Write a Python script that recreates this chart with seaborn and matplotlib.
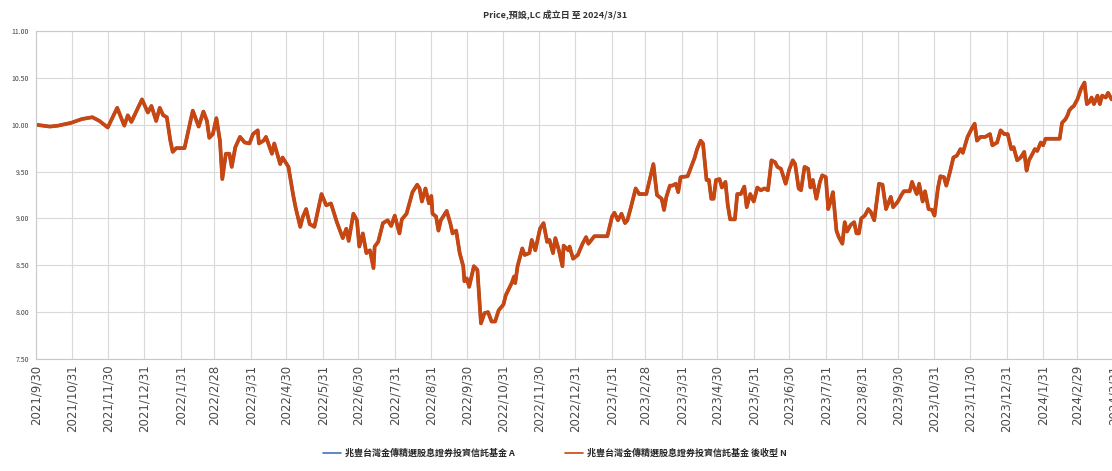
import numpy as np
import pandas as pd
import seaborn as sns
import matplotlib.pyplot as plt
from matplotlib.ticker import MultipleLocator, FormatStrFormatter

# NAV, days counted from inception (2021/9/30)
launch = '2021-09-30'
days_since_launch = [
    0, 12, 19, 30, 39, 48, 54, 61, 69, 75, 78, 81, 90, 95, 98, 102, 105, 108, 111, 114,
    116, 119, 126, 133, 138, 142, 145, 147, 150, 153, 156, 158, 161, 164, 166, 169, 173, 177, 181, 184,
    188, 189, 193, 195, 200, 202, 207, 209, 214, 218, 220, 224, 226, 229, 232, 236, 242, 246, 250, 255,
    260, 263, 265, 269, 272, 274, 277, 280, 283, 286, 287, 290, 294, 298, 301, 304, 308, 310, 314, 317,
    319, 323, 325, 327, 330, 333, 335, 336, 339, 341, 343, 348, 351, 353, 356, 359, 362, 363, 365, 367,
    371, 374, 377, 380, 383, 386, 389, 392, 396, 398, 403, 405, 406, 408, 412, 414, 418, 420, 423, 427,
    430, 433, 435, 438, 440, 443, 446, 447, 451, 452, 455, 459, 463, 466, 468, 473, 484, 488, 490, 493,
    496, 499, 501, 504, 508, 511, 514, 517, 520, 523, 526, 530, 532, 534, 537, 539, 542, 544, 546, 552,
    555, 558, 560, 563, 565, 568, 570, 572, 574, 576, 579, 581, 584, 586, 588, 592, 594, 597, 600, 602,
    605, 608, 611, 614, 617, 620, 623, 626, 628, 631, 635, 638, 641, 643, 646, 648, 651, 654, 656, 658,
    661, 664, 666, 669, 671, 673, 675, 678, 680, 683, 685, 687, 690, 693, 695, 697, 699, 702, 705, 707,
    710, 714, 717, 720, 724, 726, 730, 733, 735, 740, 742, 744, 746, 748, 751, 753, 756, 759, 761, 764,
    766, 769, 771, 774, 777, 780, 783, 785, 789, 793, 795, 797, 800, 804, 808, 810, 814, 817, 820, 823,
    826, 828, 831, 834, 837, 839, 841, 844, 846, 848, 851, 853, 855, 867, 869, 872, 874, 875, 877, 879,
    882, 885, 888, 890, 892, 894, 896, 899, 901, 903, 906, 908, 911, 913,
]
nav_n = [
    10.00, 9.98, 9.99, 10.02, 10.06, 10.08, 10.04, 9.97, 10.18, 9.99, 10.10, 10.03, 10.27, 10.13, 10.20, 10.04, 10.18, 10.10, 10.08, 9.83,
    9.71, 9.75, 9.75, 10.15, 9.98, 10.14, 10.04, 9.86, 9.90, 10.07, 9.83, 9.42, 9.69, 9.69, 9.55, 9.76, 9.87, 9.81, 9.80, 9.90,
    9.94, 9.80, 9.83, 9.87, 9.69, 9.80, 9.58, 9.65, 9.55, 9.25, 9.12, 8.91, 9.01, 9.10, 8.94, 8.91, 9.26, 9.14, 9.16, 8.96,
    8.79, 8.89, 8.76, 9.05, 8.98, 8.70, 8.84, 8.63, 8.66, 8.47, 8.70, 8.75, 8.95, 8.98, 8.92, 9.03, 8.84, 8.99, 9.05, 9.19,
    9.28, 9.36, 9.32, 9.18, 9.32, 9.16, 9.24, 9.05, 9.02, 8.87, 8.98, 9.08, 8.95, 8.84, 8.87, 8.63, 8.49, 8.33, 8.36, 8.27,
    8.49, 8.45, 7.88, 7.99, 8.00, 7.90, 7.90, 8.02, 8.08, 8.18, 8.31, 8.38, 8.31, 8.49, 8.68, 8.61, 8.63, 8.77, 8.66, 8.89,
    8.95, 8.75, 8.77, 8.63, 8.79, 8.66, 8.49, 8.71, 8.66, 8.70, 8.57, 8.61, 8.73, 8.80, 8.73, 8.81, 8.81, 9.02, 9.06, 8.98,
    9.05, 8.95, 8.98, 9.12, 9.32, 9.26, 9.26, 9.26, 9.42, 9.58, 9.25, 9.21, 9.09, 9.23, 9.35, 9.35, 9.37, 9.28, 9.44, 9.45,
    9.55, 9.65, 9.74, 9.83, 9.80, 9.41, 9.41, 9.21, 9.21, 9.41, 9.42, 9.33, 9.39, 9.14, 8.99, 8.99, 9.26, 9.26, 9.34, 9.12,
    9.26, 9.18, 9.33, 9.30, 9.32, 9.30, 9.62, 9.60, 9.55, 9.53, 9.37, 9.52, 9.62, 9.58, 9.32, 9.30, 9.55, 9.53, 9.33, 9.41,
    9.21, 9.39, 9.46, 9.44, 9.10, 9.18, 9.28, 8.87, 8.80, 8.73, 8.96, 8.86, 8.93, 8.96, 8.84, 8.84, 9.00, 9.03, 9.10, 9.07,
    8.98, 9.37, 9.36, 9.10, 9.23, 9.12, 9.18, 9.25, 9.29, 9.29, 9.39, 9.32, 9.26, 9.37, 9.18, 9.29, 9.10, 9.09, 9.03, 9.33,
    9.45, 9.44, 9.35, 9.49, 9.65, 9.67, 9.74, 9.70, 9.87, 9.97, 10.01, 9.83, 9.87, 9.87, 9.90, 9.78, 9.81, 9.94, 9.90, 9.90,
    9.74, 9.76, 9.62, 9.65, 9.71, 9.51, 9.62, 9.69, 9.74, 9.72, 9.81, 9.78, 9.85, 9.85, 10.02, 10.06, 10.11, 10.15, 10.18, 10.20,
    10.27, 10.38, 10.45, 10.22, 10.24, 10.29, 10.22, 10.31, 10.22, 10.31, 10.29, 10.34, 10.27, 10.30,
]
# class A tracks class N almost exactly; it only peeks out under the orange line
nav_a = list(nav_n)

series_names = ['兆豐台灣金傳精選股息證券投資信託基金 A', '兆豐台灣金傳精選股息證券投資信託基金 後收型 N']
series_colors = ['#4472C4', '#C8460F']
title = 'Price,預設,LC 成立日 至 2024/3/31'

dates = pd.Timestamp(launch) + pd.to_timedelta(days_since_launch, unit='D')
df = pd.concat([
    pd.DataFrame({'date': dates, 'nav': nav_a, 'fund': series_names[0]}),
    pd.DataFrame({'date': dates, 'nav': nav_n, 'fund': series_names[1]}),
])

sns.set_style('white')
plt.rcParams['font.family'] = ['Noto Sans CJK TC', 'DejaVu Sans']

fig = plt.figure(figsize=(11.12, 4.71), dpi=100)
ax = fig.add_axes([0.0321, 0.2378, 0.9697, 0.6964])

sns.lineplot(data=df, x='date', y='nav', hue='fund', palette=series_colors,
             linewidth=2.7, ax=ax, legend=False)
ax.lines[0].set_linewidth(2.3)

ax.set_xlim(pd.Timestamp('2021-09-30'), pd.Timestamp('2024-03-31'))
ax.set_ylim(7.5, 11.0)
month_ends = pd.date_range('2021-09-30', '2024-03-31', freq='ME')
ax.set_xticks(month_ends)
ax.set_xticklabels([f'{d.year}/{d.month}/{d.day}' for d in month_ends],
                   rotation=90, fontsize=8.5, color='#4a4a4a', family='DejaVu Sans')
ax.yaxis.set_major_locator(MultipleLocator(0.5))
ax.yaxis.set_minor_locator(MultipleLocator(0.1))
ax.yaxis.set_major_formatter(FormatStrFormatter('%.2f'))
ax.tick_params(axis='y', which='major', labelsize=5, colors='#404040', length=3, width=0.6, pad=2)
ax.tick_params(axis='y', which='minor', length=1.5, width=0.5, color='#909090')
ax.tick_params(axis='x', length=2, width=0.5, color='#909090', pad=2)
ax.set_xlabel('')
ax.set_ylabel('')

ax.grid(True, which='major', color='#d9d9d9', linewidth=0.8)
for s in ax.spines.values():
    s.set_color('#c8c8c8')
    s.set_linewidth(0.8)

fig.text(0.499, 0.968, title, ha='center', va='center', fontsize=6.5, fontweight='bold', color='#333333')

handles = [plt.Line2D([], [], color=c, linewidth=1.2) for c in series_colors]
fig.legend(handles, series_names, loc='center', bbox_to_anchor=(0.499, 0.038), ncol=2,
           frameon=False, columnspacing=5.5, handlelength=2.0, handletextpad=0.5,
           prop={'weight': 'bold', 'size': 6.5})

plt.savefig('out.png', dpi=100)
